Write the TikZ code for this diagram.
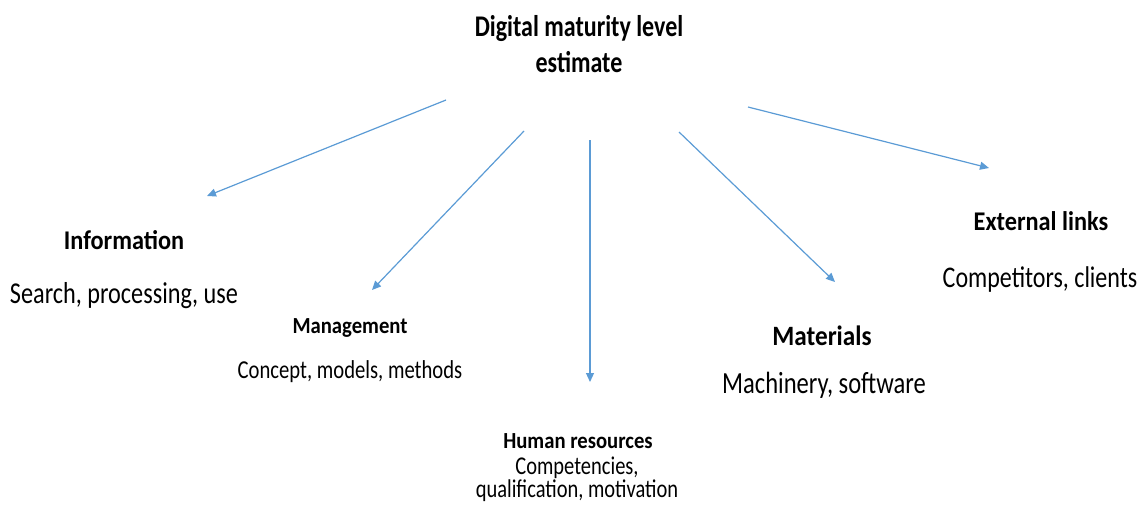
\documentclass[tikz,border=0pt]{standalone}
\usepackage{fontspec}
\setmainfont{Carlito}[FakeStretch=0.8, BoldFeatures={FakeStretch=0.9}]
\newfontfamily\titlefont{Carlito}[FakeStretch=0.8]
\usepackage{xcolor}
\usepackage{tikz}
\usetikzlibrary{arrows.meta}

\definecolor{arrowblue}{RGB}{91,155,213}

\tikzset{
  link/.style={draw=arrowblue, line width=1.2pt, -{Triangle[length=9pt, width=8pt]}},
  head/.style={anchor=base, inner sep=0pt, font=\bfseries\fontsize{#1}{#1}\selectfont},
  desc/.style={anchor=base, inner sep=0pt, font=\fontsize{#1}{#1}\selectfont}
}

\begin{document}
\begin{tikzpicture}[x=1pt, y=-1pt]
  \useasboundingbox (0,0) rectangle (1148,522);

  % base of a two-line node is its last line
  \node[anchor=base, inner sep=0pt, align=center, font=\titlefont\bfseries\fontsize{30}{36}\selectfont] (title) at (579,72) {Digital maturity level\\estimate};

  \node[head=27] (infohead) at (124,249) {Information};
  \node[desc=30.3] (infotext) at (124,303) {Search, processing, use};
  \node[head=23] (manhead) at (350,333) {Management};
  \node[desc=25.8] (mantext) at (350,378) {Concept, models, methods};
  \node[head=23] (humhead) at (578,448) {Human resources};
  \node[anchor=base, inner sep=0pt, align=center, font=\fontsize{25.6}{20.5}\selectfont] (humtext) at (577,497) {Competencies,\\qualification, motivation};
  \node[head=28] (mathead) at (822,345) {Materials};
  \node[desc=30.7] (mattext) at (824,393) {Machinery, software};
  \node[head=27] (exthead) at (1041,230) {External links};
  \node[desc=30] (exttext) at (1040,287) {Competitors, clients};

  % arrow ends
  \coordinate (infofrom) at (446,100);
  \coordinate (infoto) at (207,196);
  \coordinate (manfrom) at (524,131);
  \coordinate (manto) at (372,290);
  \coordinate (humfrom) at (590,140);
  \coordinate (humto) at (590,382);
  \coordinate (matfrom) at (679,132);
  \coordinate (matto) at (835,282);
  \coordinate (extfrom) at (748,107);
  \coordinate (extto) at (989,168);

  \draw[link] (infofrom) -- (infoto);
  \draw[link] (manfrom) -- (manto);
  \draw[link] (humfrom) -- (humto);
  \draw[link] (matfrom) -- (matto);
  \draw[link] (extfrom) -- (extto);
\end{tikzpicture}
\end{document}
